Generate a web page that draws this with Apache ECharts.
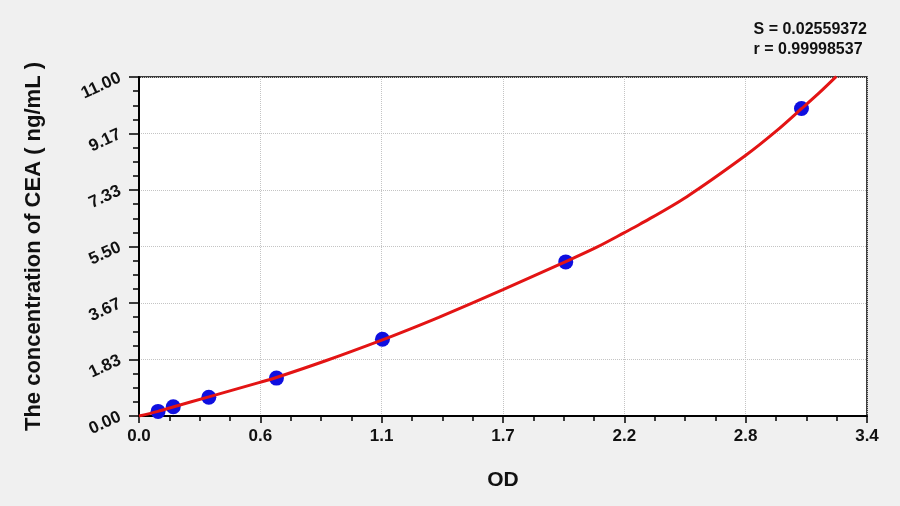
<!DOCTYPE html>
<html>
<head>
<meta charset="utf-8">
<script src="https://cdn.jsdelivr.net/npm/echarts@6/dist/echarts.min.js"></script>
<style>
  html, body { margin: 0; padding: 0; background: #f0f0f0; }
  #chart { width: 900px; height: 506px; }
</style>
</head>
<body>
<div id="chart"></div>
<script>
// Standard points (OD, concentration ng/mL)
const standardOD = [0.089, 0.160, 0.326, 0.642, 1.137, 1.993, 3.094];
const standardConc = [0.15, 0.30, 0.61, 1.23, 2.49, 5.00, 9.98];

// Fitted curve
const curveOD = [0, 0.089, 0.163, 0.326, 0.564, 0.642, 0.875, 1.137, 1.28, 1.40, 1.70, 1.993, 2.136, 2.267, 2.339, 2.557, 2.834, 2.977, 3.094, 3.179, 3.257];
const curveConc = [0, 0.15, 0.30, 0.62, 1.09, 1.25, 1.80, 2.47, 2.86, 3.20, 4.10, 5.01, 5.47, 5.95, 6.22, 7.11, 8.46, 9.25, 9.97, 10.50, 11.02];

// Tick labels
const xTickLabels = ['0.0', '0.6', '1.1', '1.7', '2.2', '2.8', '3.4'];
const yTickLabels = ['0.00', '1.83', '3.67', '5.50', '7.33', '9.17', '11.00'];

const statLines = ['S = 0.02559372', 'r = 0.99998537'];

const xMax = 3.4, yMax = 11;
const xStep = xMax / 6, yStep = yMax / 6;

const FONT = '"Liberation Sans", Arial, sans-serif';

const chart = echarts.init(document.getElementById('chart'));
chart.setOption({
  backgroundColor: '#f0f0f0',
  animation: false,
  grid: {
    left: 139, right: 33, top: 77, bottom: 90,
    show: true, backgroundColor: '#ffffff',
    borderColor: '#000', borderWidth: 1.5
  },
  graphic: [
    {
      type: 'text', right: 33, top: 20,
      style: {
        text: statLines.join('\n'), align: 'right',
        font: 'bold 16px ' + FONT, fill: '#111', lineHeight: 20
      }
    }
  ],
  xAxis: {
    type: 'value', min: 0, max: xMax, interval: xStep,
    name: 'OD', nameLocation: 'middle', nameGap: 54,
    nameTextStyle: { fontFamily: FONT, fontWeight: 'bold', fontSize: 21, color: '#111' },
    axisLine: { show: true, onZero: false, lineStyle: { color: '#000', width: 2 } },
    axisTick: { show: true, inside: false, length: 7, lineStyle: { color: '#000', width: 1.5 } },
    minorTick: { show: true, splitNumber: 4, length: 5, lineStyle: { color: '#000', width: 1.5 } },
    axisLabel: {
      margin: 12, fontFamily: FONT, fontWeight: 'bold', fontSize: 17, color: '#111',
      formatter: function (v) { return xTickLabels[Math.round(v / xStep)]; }
    },
    splitLine: { show: true, lineStyle: { color: '#c4c4c4', type: 'dotted', width: 1 } }
  },
  yAxis: {
    type: 'value', min: 0, max: yMax, interval: yStep,
    name: 'The concentration of CEA ( ng/mL )', nameLocation: 'middle', nameGap: 94,
    nameRotate: 90,
    nameTextStyle: { fontFamily: FONT, fontWeight: 'bold', fontSize: 22, color: '#111' },
    axisLine: { show: true, onZero: false, lineStyle: { color: '#000', width: 2 } },
    axisTick: { show: true, inside: false, length: 10, lineStyle: { color: '#000', width: 1.5 } },
    minorTick: { show: true, splitNumber: 4, length: 6, lineStyle: { color: '#000', width: 1.5 } },
    axisLabel: {
      margin: 19, rotate: 25, fontFamily: FONT, fontWeight: 'bold', fontSize: 17, color: '#111',
      formatter: function (v) { return yTickLabels[Math.round(v / yStep)]; }
    },
    splitLine: { show: true, lineStyle: { color: '#c4c4c4', type: 'dotted', width: 1 } }
  },
  series: [
    {
      type: 'line', name: 'fit',
      data: curveOD.map((x, i) => [x, curveConc[i]]),
      showSymbol: false, smooth: 0.3, clip: true,
      lineStyle: { color: '#e31414', width: 3 },
      z: 3
    },
    {
      type: 'scatter', name: 'standards',
      data: standardOD.map((x, i) => [x, standardConc[i]]),
      symbol: 'circle', symbolSize: 15,
      itemStyle: { color: '#0f0fe0', opacity: 1 },
      z: 2
    }
  ]
});
</script>
</body>
</html>
